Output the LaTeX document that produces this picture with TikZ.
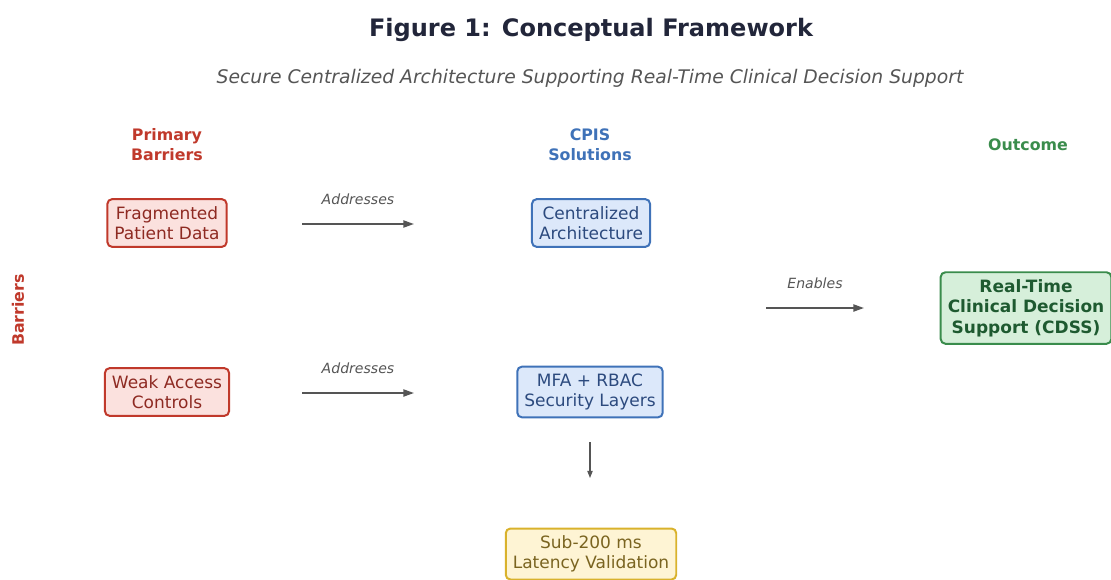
\documentclass[tikz,border=0pt]{standalone}
\usepackage{fontspec}
\setmainfont{DejaVu Sans}
\usetikzlibrary{positioning,arrows.meta}
\definecolor{cfred}{HTML}{C0392B}
\definecolor{cfredlight}{HTML}{FBE1DE}
\definecolor{cfredtext}{HTML}{8E2A22}
\definecolor{cfblue}{HTML}{3F72B8}
\definecolor{cfbluelight}{HTML}{DCE8FA}
\definecolor{cfbluetext}{HTML}{2C4A7E}
\definecolor{cfgreen}{HTML}{3A8C4C}
\definecolor{cfgreenlight}{HTML}{D6EFDA}
\definecolor{cfgreentext}{HTML}{1E5A30}
\definecolor{cfyellow}{HTML}{D9B22C}
\definecolor{cfyellowlight}{HTML}{FEF4D4}
\definecolor{cfyellowtext}{HTML}{7A6420}
\definecolor{cfgray}{HTML}{555555}
\definecolor{cfnavy}{HTML}{22263A}

\begin{document}
\begin{tikzpicture}[
        x=0.03cm, y=-0.03cm,
        every node/.style={font=\fontsize{14.5}{17.5}\selectfont},
        box/.style={rounded corners=4pt, line width=1.7pt, align=center, inner xsep=6pt, inner ysep=6pt},
        barrier/.style={box, draw=cfred, fill=cfredlight, text=cfredtext},
        solution/.style={box, draw=cfblue, fill=cfbluelight, text=cfbluetext},
        outcome/.style={box, draw=cfgreen, fill=cfgreenlight, text=cfgreentext, font=\fontsize{14.5}{17.5}\selectfont\bfseries},
        check/.style={box, draw=cfyellow, fill=cfyellowlight, text=cfyellowtext},
        header/.style={font=\fontsize{13.5}{17}\selectfont\bfseries, align=center},
        flow/.style={-{Triangle[length=9pt,width=6pt]}, line width=1.5pt, color=cfgray},
        flowlabel/.style={font=\fontsize{12}{14}\selectfont\itshape, text=cfgray}
    ]
        \useasboundingbox (0,0) rectangle (1111,579);

        \node[font=\fontsize{20.5}{24}\selectfont\bfseries, text=cfnavy] (title) at (591,30) {Figure 1: Conceptual Framework};
        \node[font=\fontsize{16}{19}\selectfont\itshape, text=cfgray] (subtitle) at (590,78) {Secure Centralized Architecture Supporting Real-Time Clinical Decision Support};

        \node[header, text=cfred] (hbarrier) at (167,145) {Primary\\Barriers};
        \node[header, text=cfblue] (hsolution) at (590,145) {CPIS\\Solutions};
        \node[header, text=cfgreen] (houtcome) at (1028,145) {Outcome};
        \node[header, text=cfred, rotate=90] (side) at (18,310) {Barriers};

        \node[barrier] (frag) at (167,223) {Fragmented\\Patient Data};
        \node[barrier] (weak) at (167,392) {Weak Access\\Controls};
        \node[solution] (central) at (591,223) {Centralized\\Architecture};
        \node[solution] (mfa) at (590,392) {MFA + RBAC\\Security Layers};
        \node[check] (latency) at (591,554) {Sub-200 ms\\Latency Validation};
        \node[outcome] (cdss) at (1026,308) {Real-Time\\Clinical Decision\\Support (CDSS)};

        \coordinate (addr1s) at (302,224);
        \coordinate (addr1e) at (414,224);
        \coordinate (addr2s) at (302,393);
        \coordinate (addr2e) at (414,393);
        \coordinate (enabs) at (766,308);
        \coordinate (enabe) at (864,308);
        \coordinate (downs) at (590,442);
        \coordinate (downe) at (590,478);

        \draw[flow] (addr1s) -- (addr1e) node[midway, above=12pt, flowlabel]{Addresses};
        \draw[flow] (addr2s) -- (addr2e) node[midway, above=12pt, flowlabel]{Addresses};
        \draw[flow] (enabs) -- (enabe) node[midway, above=12pt, flowlabel]{Enables};
        \draw[flow, line width=0.9pt, -{Triangle[length=6pt,width=4.5pt]}] (downs) -- (downe);
    \end{tikzpicture}
\end{document}
